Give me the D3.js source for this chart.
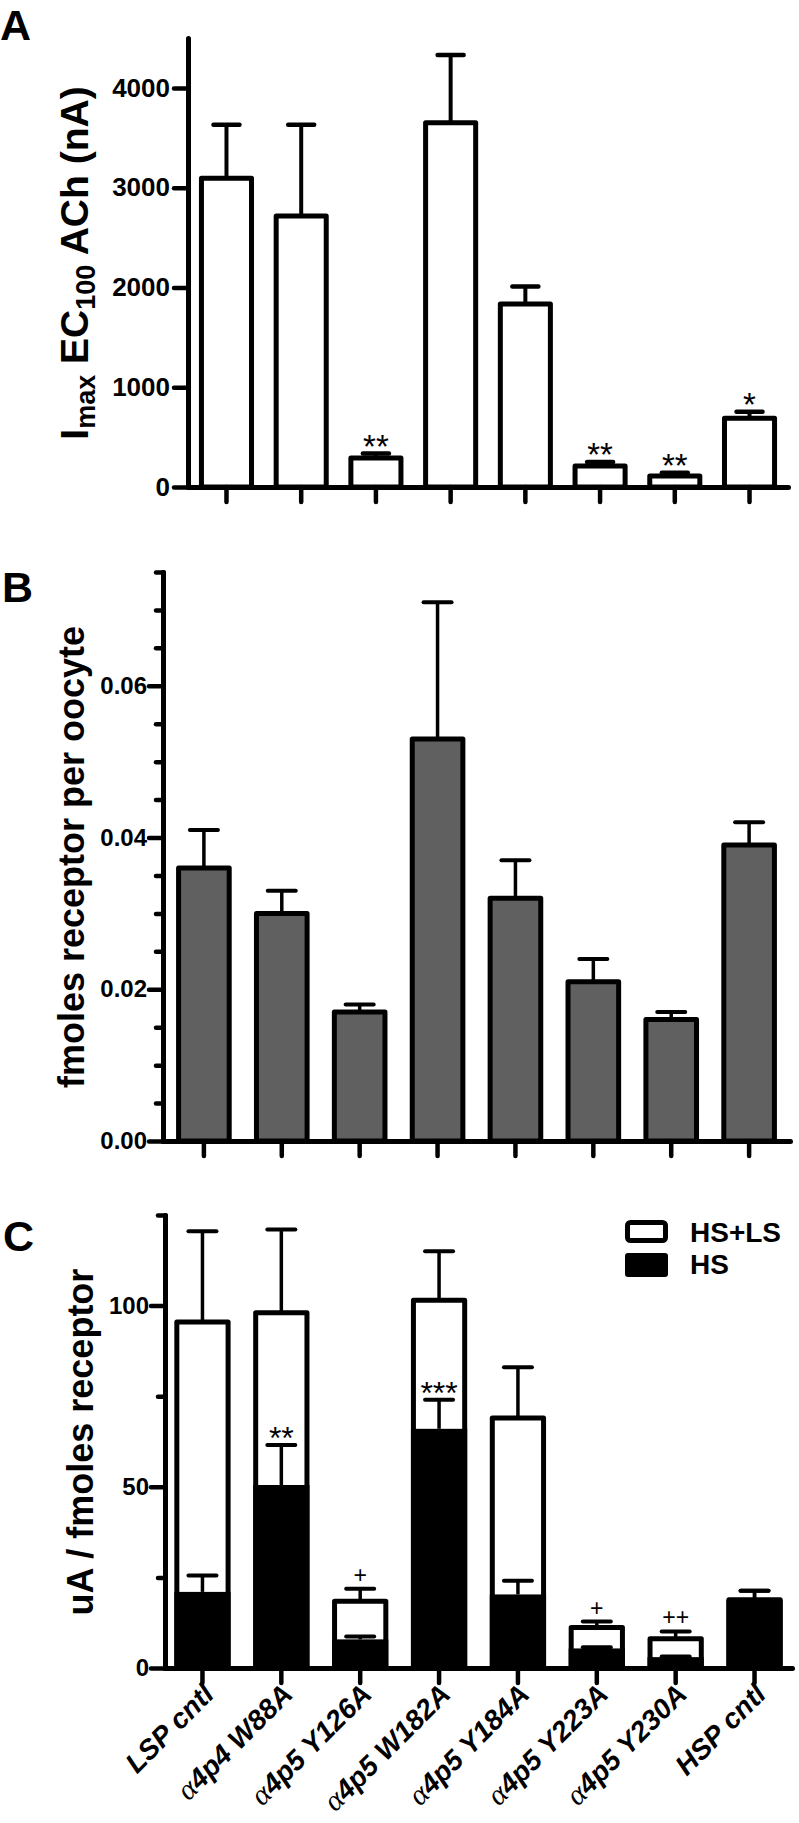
<!DOCTYPE html>
<html><head><meta charset="utf-8">
<script src="https://cdn.jsdelivr.net/npm/d3@7"></script>
<style>body{margin:0;background:#fff} svg{display:block}</style>
</head><body><svg id="chart" width="799" height="1823"></svg>
<script>
// ---------------- data ----------------
const categories = ["LSP cntl","α4p4 W88A","α4p5 Y126A","α4p5 W182A","α4p5 Y184A","α4p5 Y223A","α4p5 Y230A","HSP cntl"];

// Panel A: Imax EC100 ACh (nA)
const imaxMean = [3095, 2715, 290, 3650, 1835, 210, 110, 690];
const imaxSem  = [535, 915, 45, 680, 175, 40, 33, 63];
const imaxSig  = ["", "", "**", "", "", "**", "**", "*"];
const imaxTicks = [0, 1000, 2000, 3000, 4000];

// Panel B: fmoles receptor per oocyte
const fmolMean = [0.036, 0.030, 0.017, 0.053, 0.032, 0.021, 0.016, 0.039];
const fmolSem  = [0.005, 0.003, 0.001, 0.018, 0.005, 0.003, 0.001, 0.003];
const fmolTicks = [0, 0.02, 0.04, 0.06];
const fmolMinor = [0.005,0.01,0.015,0.025,0.03,0.035,0.045,0.05,0.055,0.065,0.07,0.075];

// Panel C: uA / fmoles receptor
const totalMean = [95.5, 98, 18.4, 101.5, 69, 11.2, 8.1, 18.8];
const totalSem  = [25, 23, 3.5, 13.5, 14, 1.6, 2.0, 2.5];
const hsMean    = [21, 50.5, 7.9, 66, 20.3, 5.4, 3.0, 18.8];
const hsSem     = [4.5, 11, 0.8, 8, 3.8, 0.3, 0.2, 2.5];
const hsSig     = ["", "**", "", "***", "", "", "", ""];
const totalSig  = ["", "", "+", "", "", "+", "++", ""];
const cTicks = [0, 50, 100];
const cMinor = [25, 75, 125];
const legendLabels = ["HS+LS", "HS"];

// ---------------- drawing ----------------
const svg = d3.select("#chart");
const FONT = "'Liberation Sans', Arial, Helvetica, sans-serif";

function styleAxis(g, fs, sw) {
  g.select(".domain").attr("stroke-width", 5).attr("stroke-linecap", "round");
  g.selectAll(".tick line").attr("stroke-width", sw).attr("stroke-linecap", "round");
  g.selectAll(".tick text").attr("font-family", FONT).attr("font-weight", "bold")
    .attr("font-size", fs).attr("fill", "#000");
}

function errBar(g, cx, y0, y1, sw, capW) {
  g.append("line").attr("x1", cx).attr("x2", cx).attr("y1", y0).attr("y2", y1)
    .attr("stroke", "#000").attr("stroke-width", sw);
  g.append("line").attr("x1", cx - capW/2).attr("x2", cx + capW/2).attr("y1", y1).attr("y2", y1)
    .attr("stroke", "#000").attr("stroke-width", sw + 0.5).attr("stroke-linecap", "round");
}

function sigText(g, cx, y, txt, fs) {
  if (!txt) return;
  g.append("text").attr("x", cx).attr("y", y).attr("text-anchor", "middle")
    .attr("font-family", FONT).attr("font-size", fs).attr("fill", "#000").text(txt);
}

function panelLetter(letter, x, y) {
  svg.append("text").attr("x", x).attr("y", y).attr("font-family", FONT)
    .attr("font-weight", "bold").attr("font-size", 43).text(letter);
}

// ===== Panel A =====
{
  const g = svg.append("g");
  const x = d3.scaleBand().domain(categories).range([188, 788]).paddingInner(0.33).paddingOuter(0.18);
  const y = d3.scaleLinear().domain([0, 4500]).range([487, 38]);

  g.selectAll("rect.bar").data(categories).join("rect").attr("class", "bar")
    .attr("x", d => x(d)).attr("width", x.bandwidth())
    .attr("y", (d, i) => y(imaxMean[i])).attr("height", (d, i) => y(0) - y(imaxMean[i]))
    .attr("fill", "#fff").attr("stroke", "#000").attr("stroke-width", 5).attr("stroke-linejoin", "round");

  categories.forEach((c, i) => {
    const cx = x(c) + x.bandwidth()/2;
    errBar(g, cx, y(imaxMean[i]), y(imaxMean[i] + imaxSem[i]), 4, 26);
    sigText(g, cx, y(imaxMean[i] + imaxSem[i]) + 4, imaxSig[i], 33);
  });

  const ya = g.append("g").attr("transform", "translate(188,0)")
    .call(d3.axisLeft(y).tickValues(imaxTicks).tickSize(14).tickSizeOuter(0).tickPadding(4).tickFormat(d3.format("d")));
  styleAxis(ya, 26, 4.5);
  const xa = g.append("g").attr("transform", "translate(0,487)")
    .call(d3.axisBottom(x).tickSize(15).tickSizeOuter(0).tickFormat(""));
  styleAxis(xa, 26, 4.5);

  const t = g.append("text").attr("transform", "translate(88,263) rotate(-90)")
    .attr("text-anchor", "middle").attr("font-family", FONT).attr("font-weight", "bold").attr("font-size", 39);
  t.append("tspan").text("I");
  t.append("tspan").attr("font-size", 27).attr("dy", 7).text("max");
  t.append("tspan").attr("dy", -7).text(" EC");
  t.append("tspan").attr("font-size", 27).attr("dy", 7).text("100");
  t.append("tspan").attr("dy", -7).text(" ACh (nA)");

  panelLetter("A", 0, 40);
}

// ===== Panel B =====
{
  const g = svg.append("g");
  const x = d3.scaleBand().domain(categories).range([163, 790]).paddingInner(0.35).paddingOuter(0.2);
  const y = d3.scaleLinear().domain([0, 0.075]).range([1141, 572]);

  g.selectAll("rect.bar").data(categories).join("rect").attr("class", "bar")
    .attr("x", d => x(d)).attr("width", x.bandwidth())
    .attr("y", (d, i) => y(fmolMean[i])).attr("height", (d, i) => y(0) - y(fmolMean[i]))
    .attr("fill", "#606060").attr("stroke", "#000").attr("stroke-width", 5).attr("stroke-linejoin", "round");

  categories.forEach((c, i) => {
    const cx = x(c) + x.bandwidth()/2;
    errBar(g, cx, y(fmolMean[i]), y(fmolMean[i] + fmolSem[i]), 3.5, 28);
  });

  const ym = g.append("g").attr("transform", "translate(163,0)")
    .call(d3.axisLeft(y).tickValues(fmolMinor).tickSize(7).tickSizeOuter(0).tickFormat(""));
  styleAxis(ym, 24, 4.5);
  const ya = g.append("g").attr("transform", "translate(163,0)")
    .call(d3.axisLeft(y).tickValues(fmolTicks).tickSize(14).tickSizeOuter(0).tickPadding(2).tickFormat(d3.format(".2f")));
  styleAxis(ya, 24, 4.5);
  const xa = g.append("g").attr("transform", "translate(0,1141)")
    .call(d3.axisBottom(x).tickSize(15).tickSizeOuter(0).tickFormat(""));
  styleAxis(xa, 24, 4.5);

  g.append("text").attr("transform", "translate(84,857) rotate(-90)")
    .attr("text-anchor", "middle").attr("font-family", FONT).attr("font-weight", "bold").attr("font-size", 36)
    .text("fmoles receptor per oocyte");

  panelLetter("B", 2, 602);
}

// ===== Panel C =====
{
  const g = svg.append("g");
  const x = d3.scaleBand().domain(categories).range([165, 792]).paddingInner(0.35).paddingOuter(0.15);
  const y = d3.scaleLinear().domain([0, 125]).range([1668, 1215]);

  // total (HS+LS) white bars
  g.selectAll("rect.tot").data(categories).join("rect").attr("class", "tot")
    .attr("x", d => x(d)).attr("width", x.bandwidth())
    .attr("y", (d, i) => y(totalMean[i])).attr("height", (d, i) => y(0) - y(totalMean[i]))
    .attr("fill", "#fff").attr("stroke", "#000").attr("stroke-width", 5).attr("stroke-linejoin", "round");

  categories.forEach((c, i) => {
    const cx = x(c) + x.bandwidth()/2;
    errBar(g, cx, y(totalMean[i]), y(totalMean[i] + totalSem[i]), 3.5, 28);
    sigText(g, cx, y(totalMean[i] + totalSem[i]) - 6, totalSig[i], 23);
  });

  // HS black bars
  g.selectAll("rect.hs").data(categories).join("rect").attr("class", "hs")
    .attr("x", d => x(d) - 2.5).attr("width", x.bandwidth() + 5)
    .attr("y", (d, i) => y(hsMean[i])).attr("height", (d, i) => y(0) - y(hsMean[i]))
    .attr("fill", "#000");

  categories.forEach((c, i) => {
    const cx = x(c) + x.bandwidth()/2;
    errBar(g, cx, y(hsMean[i]), y(hsMean[i] + hsSem[i]), 3.5, 28);
    sigText(g, cx, y(hsMean[i] + hsSem[i]) + 4, hsSig[i], 32);
  });

  const ym = g.append("g").attr("transform", "translate(165,0)")
    .call(d3.axisLeft(y).tickValues(cMinor).tickSize(7).tickSizeOuter(0).tickFormat(""));
  styleAxis(ym, 24, 4.5);
  const ya = g.append("g").attr("transform", "translate(165,0)")
    .call(d3.axisLeft(y).tickValues(cTicks).tickSize(14).tickSizeOuter(0).tickPadding(2).tickFormat(d3.format("d")));
  styleAxis(ya, 24, 4.5);
  const xa = g.append("g").attr("transform", "translate(0,1668)")
    .call(d3.axisBottom(x).tickSize(15).tickSizeOuter(0).tickFormat(""));
  styleAxis(xa, 24, 4.5);

  // rotated category labels
  categories.forEach((c, i) => {
    const cx = x(c) + x.bandwidth()/2;
    const t = g.append("text").attr("transform", `translate(${cx + 13},${1668 + 28}) rotate(-45)`)
      .attr("text-anchor", "end").attr("font-family", FONT).attr("font-weight", "bold")
      .attr("font-style", "italic").attr("font-size", 28);
    if (c.startsWith("α")) {
      t.append("tspan").attr("font-family", "'Liberation Serif', 'DejaVu Serif', serif")
        .attr("font-weight", "normal").attr("font-style", "italic").attr("font-size", 30).text("α");
      t.append("tspan").text(c.slice(1));
    } else {
      t.text(c);
    }
  });

  g.append("text").attr("transform", "translate(93,1442) rotate(-90)")
    .attr("text-anchor", "middle").attr("font-family", FONT).attr("font-weight", "bold").attr("font-size", 36)
    .text("uA / fmoles receptor");

  // legend
  const lg = g.append("g");
  lg.append("rect").attr("x", 627.5).attr("y", 1222.5).attr("width", 38).attr("height", 18).attr("rx", 3)
    .attr("fill", "#fff").attr("stroke", "#000").attr("stroke-width", 5);
  lg.append("rect").attr("x", 625).attr("y", 1253).attr("width", 43).attr("height", 24).attr("rx", 3)
    .attr("fill", "#000");
  lg.selectAll("text").data(legendLabels).join("text")
    .attr("x", 690).attr("y", (d, i) => 1242 + i * 32)
    .attr("font-family", FONT).attr("font-weight", "bold").attr("font-size", 28).text(d => d);

  panelLetter("C", 3, 1251);
}
</script>
</body></html>
